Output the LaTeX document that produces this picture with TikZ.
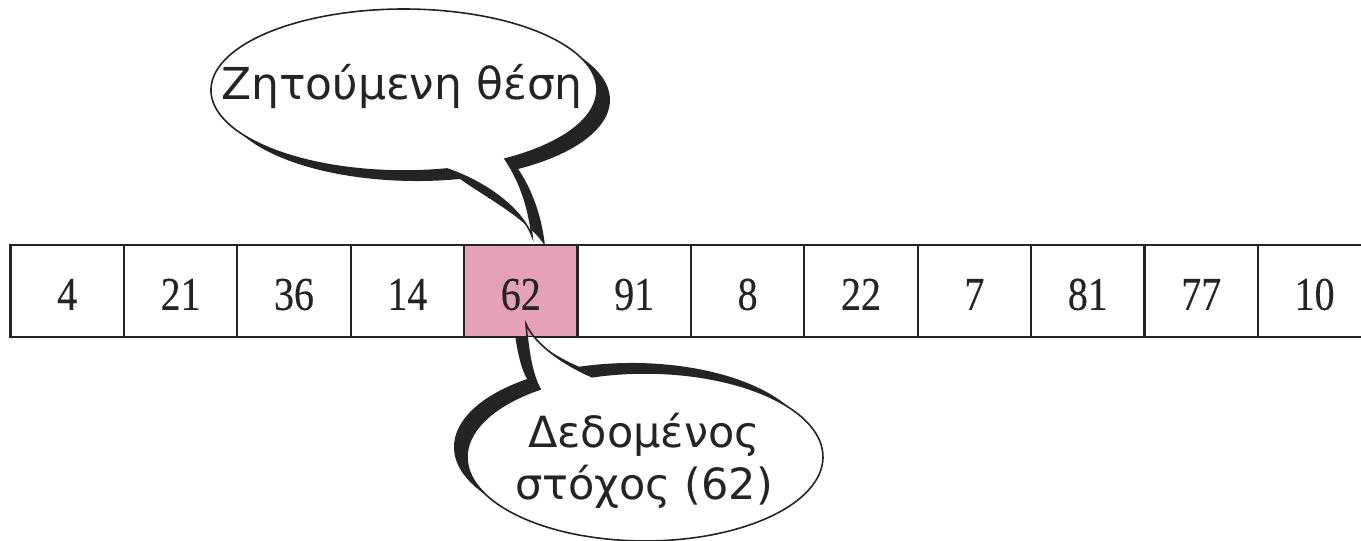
\documentclass[tikz,border=0pt]{standalone}
\usepackage{fontspec}
\newfontfamily\bubblefont{DejaVu Sans}
\newfontfamily\cellfont[FakeStretch=0.85,FakeBold=0.3]{Liberation Serif}
\definecolor{ink}{RGB}{34,36,38}
\definecolor{target}{RGB}{228,161,183}

% speech bubble outlines: ellipse with a pointed tail
\def\topbubble{(505.1,382) arc[start angle=-58.4, end angle=282.9, x radius=193, y radius=81]
  .. controls (480,361) and (520,336) .. (532,305)
  .. controls (528,341) and (516,366) .. (505.1,382) -- cycle}
% its shadow: the same ellipse moved right and down, with a fuller tail
\def\topshadow{(518.1,372) arc[start angle=-58.4, end angle=282.9, x radius=193, y radius=81]
  .. controls (485,344) and (528,322) .. (545,295)
  .. controls (541,331) and (529,356) .. (518.1,372) -- cycle}
\def\lowbubble{(540.1,151.9) arc[start angle=126.1, end angle=467.3, x radius=178, y radius=84]
  .. controls (565,176) and (535,196) .. (526,217)
  .. controls (528,191) and (532,166) .. (540.1,151.9) -- cycle}

\begin{document}
\begin{tikzpicture}[x=1pt,y=1pt,
  cellbox/.style={draw=ink, line width=2.3pt, minimum width=113.4pt, minimum height=92pt,
    inner sep=0pt, text height=37.7pt, text depth=0pt, text=ink,
    font=\cellfont\fontsize{47}{47}\selectfont},
  hit/.style={cellbox, fill=target},
  bubbleline/.style={draw=ink, line width=1.6pt},
  bubbletext/.style={text=ink, align=center, inner sep=0pt}]
\useasboundingbox (0,0) rectangle (1361,541);
\fill[white] (0,0) rectangle (1361,541);

% the array
\node[cellbox] (c0)  at ( 67.2,250) {4};
\node[cellbox] (c1)  at (180.6,250) {21};
\node[cellbox] (c2)  at (294.0,250) {36};
\node[cellbox] (c3)  at (407.4,250) {14};
\node[hit]     (c4)  at (520.8,250) {62};
\node[cellbox] (c5)  at (634.2,250) {91};
\node[cellbox] (c6)  at (747.6,250) {8};
\node[cellbox] (c7)  at (861.0,250) {22};
\node[cellbox] (c8)  at (974.4,250) {7};
\node[cellbox] (c9)  at (1087.8,250) {81};
\node[cellbox] (c10) at (1201.2,250) {77};
\node[cellbox] (c11) at (1314.6,250) {10};

% upper bubble, shadow to the lower right
\fill[ink] \topshadow;
\fill[white] \topbubble;
\draw[bubbleline] \topbubble;
\node[bubbletext, anchor=base, font=\bubblefont\fontsize{44}{52}\selectfont] (asked) at (402,441) {Ζητούμενη θέση};

% lower bubble, shadow to the upper left, kept below the array
\begin{scope}
  \clip (0,0) rectangle (1361,203);
  \fill[ink, shift={(-13,10)}] \lowbubble;
  \fill[white] \lowbubble;
\end{scope}
\draw[bubbleline] \lowbubble;
\node[bubbletext, anchor=base, font=\bubblefont\fontsize{43}{52}\selectfont] (given) at (644,41) {Δεδομένος\\στόχος (62)};
\end{tikzpicture}
\end{document}
